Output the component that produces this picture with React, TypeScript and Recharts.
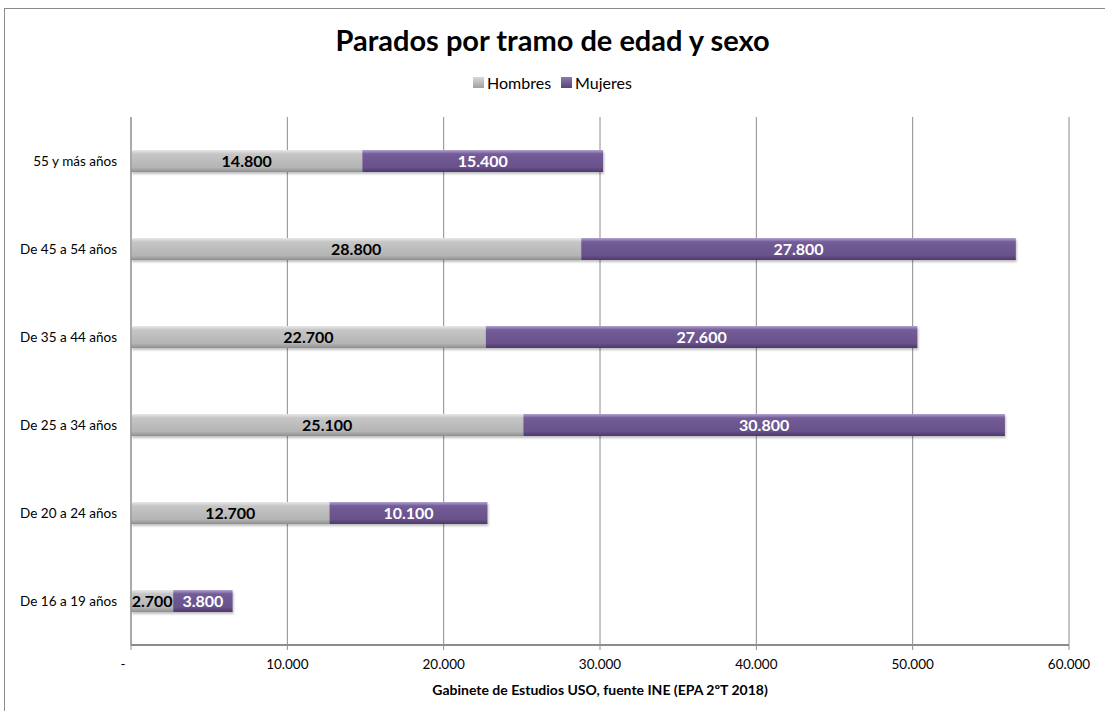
import { Bar, BarChart, CartesianGrid, LabelList, XAxis, YAxis } from "recharts";

const ageGroups = [
  "55 y más años",
  "De 45 a 54 años",
  "De 35 a 44 años",
  "De 25 a 34 años",
  "De 20 a 24 años",
  "De 16 a 19 años",
];
const hombres = [14800, 28800, 22700, 25100, 12700, 2700];
const mujeres = [15400, 27800, 27600, 30800, 10100, 3800];
const xTicks = [0, 10000, 20000, 30000, 40000, 50000, 60000];

const FONT = "Lato, 'Open Sans', sans-serif";

const fmt = (v: number) =>
  v === 0 ? "-" : String(v).replace(/\B(?=(\d{3})+(?!\d))/g, ".");

const data = ageGroups.map((g, i) => ({
  group: g,
  Hombres: hombres[i],
  Mujeres: mujeres[i],
}));

function XTick(props: any) {
  const { x, y, payload } = props;
  const shift = payload.value === 0 ? -8 : 0;
  return (
    <text
      x={x + shift}
      y={y + 17}
      textAnchor="middle"
      fontSize={13.5}
      fontFamily={FONT}
      fill="#000"
    >
      {fmt(payload.value)}
    </text>
  );
}

function LegendBox({ id }: { id: string }) {
  return (
    <svg width={11} height={11} style={{ marginRight: 3 }}>
      <rect x={0} y={0} width={11} height={11} fill={`url(#${id})`} />
    </svg>
  );
}

export default function App() {
  return (
    <div style={{ position: "absolute", left: 0, top: 0, width: 1105, height: 711, background: "#fff" }}>
      <div
        style={{
          position: "absolute",
          left: 4,
          top: 8,
          width: 1110,
          height: 720,
          border: "1px solid #8a8a8a",
        }}
      />
      <div
        style={{
          position: "absolute",
          left: 0,
          top: 22,
          width: 1105,
          textAlign: "center",
          fontFamily: FONT,
          fontWeight: "bold",
          fontSize: 29,
          color: "#000",
        }}
      >
        Parados por tramo de edad y sexo
      </div>
      <div
        style={{
          position: "absolute",
          left: 0,
          top: 73,
          width: 1105,
          display: "flex",
          justifyContent: "center",
          alignItems: "center",
          fontFamily: FONT,
          fontSize: 16,
          color: "#000",
        }}
      >
        <LegendBox id="lgGray" />
        <span style={{ marginRight: 10 }}>Hombres</span>
        <LegendBox id="lgPurple" />
        <span>Mujeres</span>
      </div>
      <BarChart
        width={1105}
        height={711}
        data={data}
        layout="vertical"
        margin={{ top: 117, right: 36, bottom: 0, left: 0 }}
        style={{ position: "absolute", left: 0, top: 0 }}
      >
        <defs>
          <linearGradient id="gGray" x1="0" y1="0" x2="0" y2="1">
            <stop offset="0%" stopColor="#e8e8e8" />
            <stop offset="18%" stopColor="#c6c6c6" />
            <stop offset="80%" stopColor="#b4b4b4" />
            <stop offset="100%" stopColor="#8e8e8e" />
          </linearGradient>
          <linearGradient id="gPurple" x1="0" y1="0" x2="0" y2="1">
            <stop offset="0%" stopColor="#b3a3cf" />
            <stop offset="18%" stopColor="#735c98" />
            <stop offset="80%" stopColor="#685189" />
            <stop offset="100%" stopColor="#4c396a" />
          </linearGradient>
          <linearGradient id="lgGray" x1="0" y1="0" x2="0" y2="1">
            <stop offset="0%" stopColor="#d8d8d8" />
            <stop offset="100%" stopColor="#a0a0a0" />
          </linearGradient>
          <linearGradient id="lgPurple" x1="0" y1="0" x2="0" y2="1">
            <stop offset="0%" stopColor="#8d78b0" />
            <stop offset="100%" stopColor="#574478" />
          </linearGradient>
          <filter id="shadow" x="-5%" y="-20%" width="110%" height="160%">
            <feDropShadow dx="1" dy="2" stdDeviation="1.2" floodColor="#000" floodOpacity="0.25" />
          </filter>
        </defs>
        <CartesianGrid horizontal={false} stroke="#8c8c8c" strokeWidth={1} />
        <XAxis
          type="number"
          domain={[0, 60000]}
          ticks={xTicks}
          interval={0}
          height={66}
          stroke="#8c8c8c"
          axisLine={{ stroke: "#8c8c8c", strokeWidth: 2 }}
          tickLine={{ stroke: "#8c8c8c" }}
          tickSize={5}
          tick={<XTick />}
          label={{
            value: "Gabinete de Estudios USO, fuente INE (EPA 2ºT 2018)",
            position: "insideBottom",
            offset: 16,
            fontSize: 14,
            fontWeight: "bold",
            fontFamily: FONT,
            fill: "#000",
          }}
        />
        <YAxis
          type="category"
          dataKey="group"
          width={131}
          axisLine={{ stroke: "#8c8c8c" }}
          tickLine={false}
          tickMargin={8}
          tick={{ fontSize: 13.5, fill: "#000", fontFamily: FONT }}
        />
        <Bar
          dataKey="Hombres"
          stackId="a"
          fill="url(#gGray)"
          barSize={22}
          isAnimationActive={false}
          style={{ filter: "url(#shadow)" }}
        >
          <LabelList
            dataKey="Hombres"
            position="center"
            formatter={(v: any) => fmt(Number(v))}
            fill="#000"
            fontSize={16}
            fontWeight="bold"
            fontFamily={FONT}
          />
        </Bar>
        <Bar
          dataKey="Mujeres"
          stackId="a"
          fill="url(#gPurple)"
          barSize={22}
          isAnimationActive={false}
          style={{ filter: "url(#shadow)" }}
        >
          <LabelList
            dataKey="Mujeres"
            position="center"
            formatter={(v: any) => fmt(Number(v))}
            fill="#fff"
            fontSize={16}
            fontWeight="bold"
            fontFamily={FONT}
          />
        </Bar>
      </BarChart>
    </div>
  );
}
